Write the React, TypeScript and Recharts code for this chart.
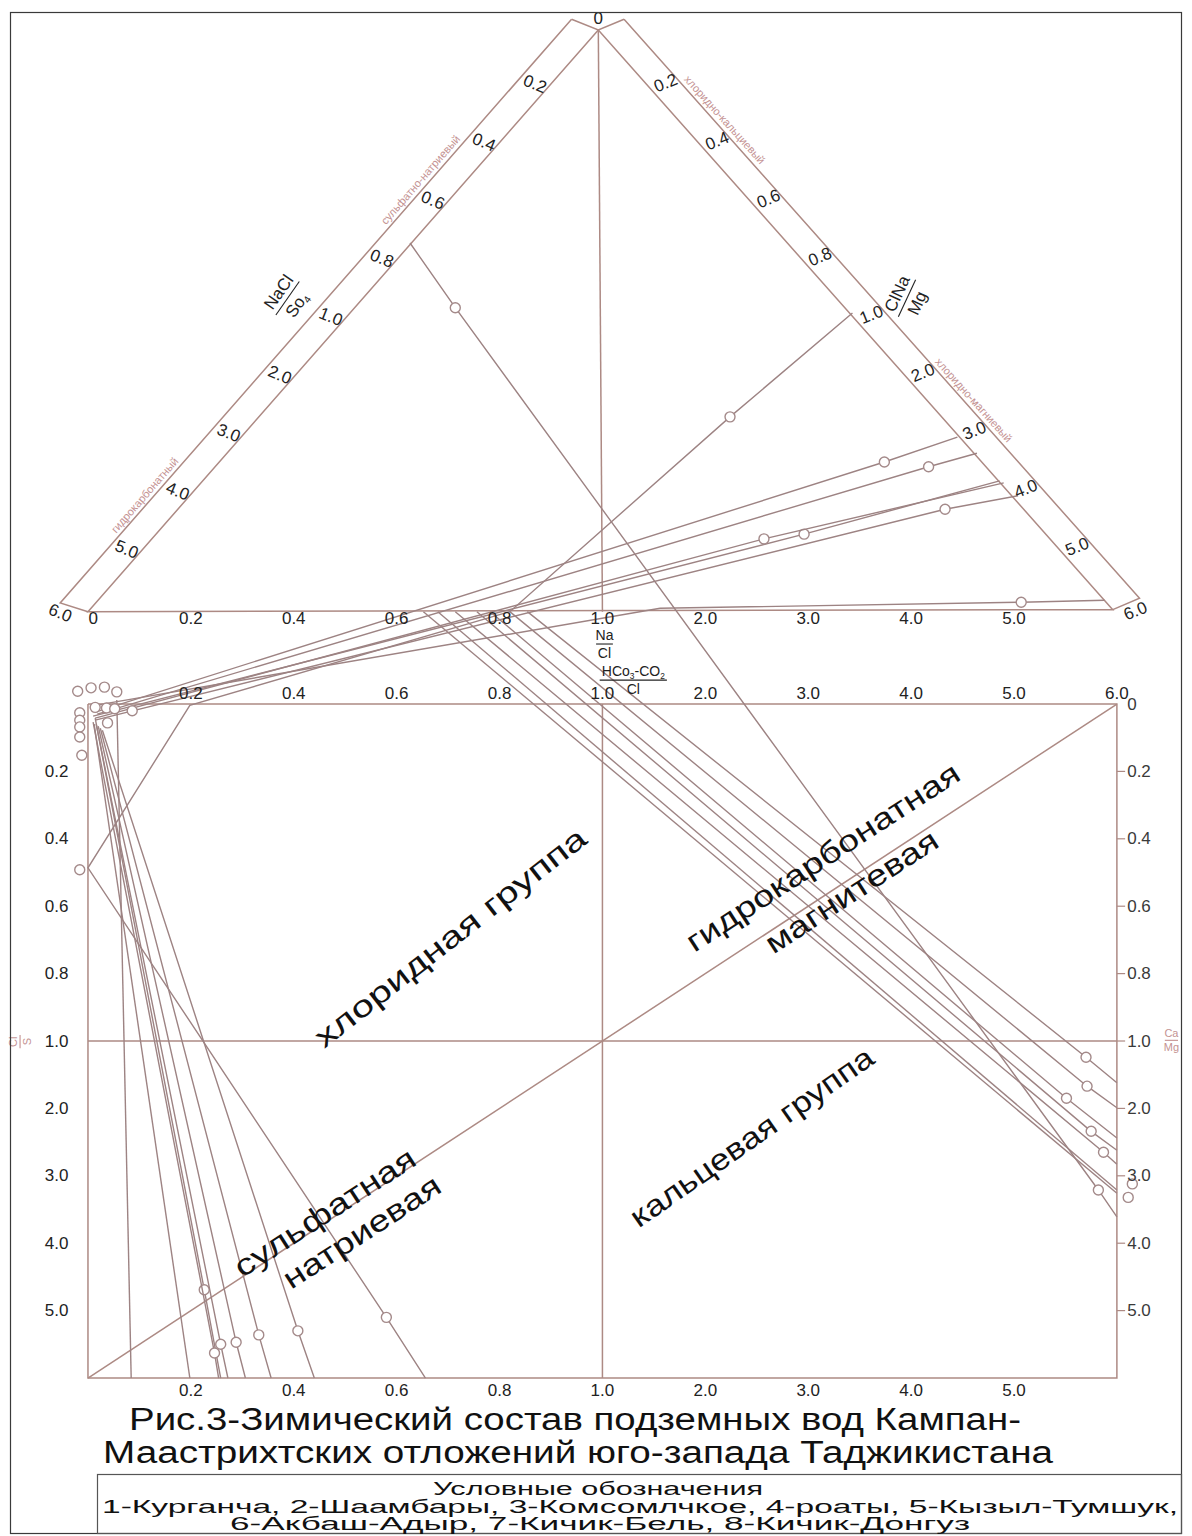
import React from "react";
import { ScatterChart, Scatter, XAxis, YAxis } from "recharts";

type P = [number, number, number?];

// One scale index on both axes: 0…5 covers 0–1.0 in steps of 0.2, 5…10 covers 1.0–6.0.
// y < 0 is the triangle, 0…10 the square (0 at its top edge).
const scaleLabels = ["0", "0.2", "0.4", "0.6", "0.8", "1.0", "2.0", "3.0", "4.0", "5.0", "6.0"];

const triApex: P = [4.96, -10];
const triLeft: P = [0, -1.37];
const triRight: P = [9.96, -1.4];
const triInner: P[] = [triApex, triLeft, triRight, triApex];
const triOuterLeft: P[] = [[4.7, -10.16], [-0.27, -1.5], triLeft];
const triOuterRight: P[] = [[5.21, -10.16], [10.22, -1.57], triRight];
const triNotch: P[] = [[4.7, -10.16], triApex, [5.21, -10.16]];
const triAxis: P[] = [triApex, [5, -1.37]];
const squareBox: P[] = [[0, 0], [10, 0], [10, 10], [0, 10], [0, 0]];
const squareV: P[] = [[5, 0], [5, 10]];
const squareH: P[] = [[0, 5], [10, 5]];
const squareDiag: P[] = [[0, 10], [10, 0]];

// sample traces, third value 1 = plotted point (circle)
const crossLines: P[][] = [
  [[3.13, -6.84], [3.57, -5.88, 1], [9.82, 7.21, 1], [10, 7.61]],
  [[7.43, -5.8], [6.24, -4.26, 1], [4.1, -1.37], [0.99, 0.02], [0, 2.43], [2.9, 9.1, 1], [3.28, 10]],
];

const fanLines: P[][] = [
  [[8.45, -3.96], [7.74, -3.59, 1], [0.07, 0.12]],
  [[8.64, -3.72], [8.17, -3.52, 1], [0.09, 0.15]],
  [[8.86, -3.31], [6.96, -2.52, 1], [0.05, 0.18]],
  [[8.9, -3.28], [6.57, -2.45, 1], [0.07, 0.21]],
  [[9.04, -3.09], [8.33, -2.89, 1], [0.07, 0.24]],
  [[9.88, -1.54], [9.07, -1.51, 1], [5.56, -1.42], [0.07, 0.02]],
];

const calciumLines: P[][] = [
  [[4.27, -1.37], [9.7, 5.24, 1], [10, 5.62]],
  [[4.1, -1.37], [9.71, 5.67, 1], [10, 5.99]],
  [[3.91, -1.37], [9.51, 5.85, 1], [10, 6.44]],
  [[3.78, -1.37], [9.75, 6.34, 1], [10, 6.62]],
  [[3.57, -1.37], [9.87, 6.65, 1], [10, 6.83]],
  [[3.4, -1.37], [10, 7.21]],
  [[3.26, -1.37], [10, 7.26]],
];

const sulfateLines: P[][] = [
  [[0.28, -0.06], [0.42, 10]],
  [[0.06, 0.3], [0.99, 10]],
  [[0.07, 0.21], [1.13, 8.69, 1], [1.29, 10]],
  [[0.05, 0.27], [1.23, 9.63, 1], [1.27, 10]],
  [[0.08, 0.3], [1.29, 9.5, 1], [1.36, 10]],
  [[0.1, 0.33], [1.44, 9.47, 1], [1.53, 10]],
  [[0.12, 0.36], [1.66, 9.36, 1], [1.78, 10]],
  [[0.14, 0.39], [2.04, 9.3, 1], [2.2, 10]],
];

const loosePoints: P[] = [
  [-0.1, -0.19, 1], [0.03, -0.24, 1], [0.16, -0.25, 1], [0.28, -0.18, 1],
  [0.07, 0.05, 1], [0.18, 0.06, 1], [0.26, 0.07, 1], [0.43, 0.1, 1],
  [-0.08, 0.13, 1], [-0.08, 0.24, 1], [-0.08, 0.34, 1], [0.19, 0.28, 1],
  [-0.08, 0.49, 1], [-0.06, 0.76, 1], [-0.08, 2.46, 1],
  [10.15, 7.12, 1], [10.11, 7.32, 1],
];

const regionLabels = [
  { t: "хлоридная группа", x: 3.52, y: 3.46, a: -38, len: 336 },
  { t: "гидрокарбонатная", x: 7.14, y: 2.27, a: -33, len: 320 },
  { t: "магнитевая", x: 7.42, y: 2.78, a: -33, len: 200 },
  { t: "кальцевая группа", x: 6.45, y: 6.42, a: -35, len: 290 },
  { t: "сульфатная", x: 2.3, y: 7.54, a: -33, len: 210 },
  { t: "натриевая", x: 2.66, y: 7.83, a: -33, len: 182 },
];

const bandLabels = [
  { t: "сульфатно-натриевый", x: 3.23, y: -7.78, a: -49 },
  { t: "гидрокарбонатный", x: 0.55, y: -3.1, a: -49 },
  { t: "хлоридно-кальциевый", x: 6.19, y: -8.67, a: 48 },
  { t: "хлоридно-магниевый", x: 8.61, y: -4.51, a: 48 },
];

const fractions = [
  { top: "NaCl", bot: "So_4", x: 1.94, y: -6.02, a: -55, fs: 17 },
  { top: "ClNa", bot: "Mg", x: 7.96, y: -6.02, a: -65, fs: 17 },
  { top: "Na", bot: "Cl", x: 5.02, y: -0.89, a: 0, fs: 14 },
  { top: "HCo_3-CO_2", bot: "Cl", x: 5.3, y: -0.355, a: 0, fs: 14 },
  { top: "Ca", bot: "Mg", x: 10.53, y: 4.99, a: 0, fs: 11, pink: true },
  { top: "Cl", bot: "S", x: -0.66, y: 5.01, a: -90, fs: 11, pink: true },
];

const FONT = "'Liberation Sans', Arial, Helvetica, sans-serif";
const FRAME = "#ad8a84";
const LINE = "#9d8383";
const CIRCLE = "#a48a8a";
const INK = "#222";
const PINK = "#c49292";

const toRow = ([x, y, c]: P) => ({ x, y, c: c === 1 });
const lerp = (a: P, b: P, t: number) => [a[0] + (b[0] - a[0]) * t, a[1] + (b[1] - a[1]) * t];

const leftSideTicks = scaleLabels.slice(1).map((t, i) => {
  const [x, y] = lerp(triApex, triLeft, (i + 1) / 10);
  return i === 9 ? { t, x: x - 0.27, y: y + 0.02, a: 22 } : { t, x: x - 0.12, y: y - 0.06, a: 22 };
});
const rightSideTicks = scaleLabels.slice(1).map((t, i) => {
  const [x, y] = lerp(triApex, triRight, (i + 1) / 10);
  return i === 9 ? { t, x: x + 0.22, y: y + 0.02, a: -22 } : { t, x: x + 0.155, y: y - 0.074, a: -22 };
});
const baseTicks = scaleLabels.slice(0, 10).map((t, i) => ({ t, x: i === 0 ? 0.05 : i, y: -1.27 }));
const topTicks = scaleLabels.slice(1).map((t, i) => ({ t, x: i + 1, y: -0.16 }));
const bottomTicks = scaleLabels.slice(1, 10).map((t, i) => ({ t, x: i + 1, y: 10.19 }));
const leftTicks = scaleLabels.slice(1, 10).map((t, i) => ({ t, x: -0.19, y: i + 1 }));
const rightTicks = scaleLabels.slice(0, 10).map((t, i) => ({ t, x: 10.1, y: i }));
const apexLabel = [{ t: "0", x: 4.96, y: -10.17 }];

const marker = (p: any) =>
  p.payload && p.payload.c ? (
    <circle cx={p.cx} cy={p.cy} r={5} fill="#fff" stroke={CIRCLE} strokeWidth={1.4} />
  ) : (
    <g />
  );

const textShape = (size: number, color: string, anchor: string = "middle") => (p: any) => {
  const { cx, cy, payload } = p;
  return (
    <text
      x={cx}
      y={cy}
      fontSize={size}
      fill={color}
      fontFamily={FONT}
      textAnchor={anchor}
      dominantBaseline="central"
      transform={payload.a ? `rotate(${payload.a} ${cx} ${cy})` : undefined}
      textLength={payload.len}
      lengthAdjust={payload.len ? "spacingAndGlyphs" : undefined}
    >
      {payload.t}
    </text>
  );
};

const withSubs = (s: string, size: number) =>
  s.split(/_(\d)/).map((part, i) =>
    i % 2 ? (
      <tspan key={i} fontSize={size * 0.6} dy={size * 0.2}>
        {part}
      </tspan>
    ) : (
      <tspan key={i} dy={i > 0 ? -size * 0.2 : 0}>
        {part}
      </tspan>
    )
  );

const fractionShape = (p: any) => {
  const { cx, cy, payload: d } = p;
  const fs = d.fs;
  const color = d.pink ? PINK : INK;
  const chars = Math.max(d.top.replace(/_/g, "").length, d.bot.length);
  const w = chars * fs * 0.6;
  return (
    <g transform={`rotate(${d.a} ${cx} ${cy})`} fill={color} fontFamily={FONT} fontSize={fs}>
      <text x={cx} y={cy - fs * 0.3} textAnchor="middle">
        {withSubs(d.top, fs)}
      </text>
      <line x1={cx - w / 2} x2={cx + w / 2} y1={cy} y2={cy} stroke={color} strokeWidth={1.1} />
      <text x={cx} y={cy + fs * 1.0} textAnchor="middle">
        {withSubs(d.bot, fs)}
      </text>
    </g>
  );
};

const path = (key: string, pts: P[], stroke: string, width = 1.4) => (
  <Scatter
    key={key}
    data={pts.map(toRow)}
    line={{ stroke, strokeWidth: width }}
    lineType="joint"
    shape={marker}
    isAnimationActive={false}
  />
);

const labels = (key: string, rows: any[], shape: any) => (
  <Scatter key={key} data={rows} shape={shape} isAnimationActive={false} />
);

export default function App() {
  const frames: [string, P[]][] = [
    ["triInner", triInner],
    ["triOuterLeft", triOuterLeft],
    ["triOuterRight", triOuterRight],
    ["triNotch", triNotch],
    ["triAxis", triAxis],
    ["squareBox", squareBox],
    ["squareV", squareV],
    ["squareH", squareH],
    ["squareDiag", squareDiag],
  ];
  const rightDashes: P[][] = scaleLabels.slice(1, 10).map((_, i) => [[10, i + 1], [10.08, i + 1]]);

  return (
    <div style={{ position: "absolute", left: 0, top: 0, width: 1192, height: 1536, background: "#fff" }}>
      <ScatterChart width={1192} height={1536} margin={{ top: 0, right: 0, bottom: 0, left: 0 }}>
        <XAxis type="number" dataKey="x" domain={[-0.855, 10.73]} allowDataOverflow hide />
        <YAxis type="number" dataKey="y" domain={[-10.445, 12.344]} allowDataOverflow reversed hide />
        {frames.map(([k, pts]) => path(k, pts, FRAME, 1.5))}
        {rightDashes.map((pts, i) => path(`dash${i}`, pts, FRAME, 1.2))}
        {crossLines.map((pts, i) => path(`cross${i}`, pts, LINE))}
        {fanLines.map((pts, i) => path(`fan${i}`, pts, LINE))}
        {calciumLines.map((pts, i) => path(`ca${i}`, pts, LINE))}
        {sulfateLines.map((pts, i) => path(`so${i}`, pts, LINE))}
        <Scatter data={loosePoints.map(toRow)} shape={marker} isAnimationActive={false} />
        {labels("apex", apexLabel, textShape(17, INK))}
        {labels("leftSide", leftSideTicks, textShape(17, INK))}
        {labels("rightSide", rightSideTicks, textShape(17, INK))}
        {labels("base", baseTicks, textShape(17, INK))}
        {labels("top", topTicks, textShape(17, INK))}
        {labels("bottom", bottomTicks, textShape(17, INK))}
        {labels("left", leftTicks, textShape(17, INK, "end"))}
        {labels("right", rightTicks, textShape(17, "#3a3a3a", "start"))}
        {labels("bands", bandLabels, textShape(11, PINK))}
        {labels("fractions", fractions, fractionShape)}
        {labels("regions", regionLabels, textShape(30, "#111"))}
      </ScatterChart>
      <svg
        width={1192}
        height={1536}
        style={{ position: "absolute", left: 0, top: 0, pointerEvents: "none" }}
        fontFamily={FONT}
      >
        <rect x={10.5} y={12.5} width={1171} height={1521} fill="none" stroke="#3a3a3a" strokeWidth={1.2} />
        <text x={575} y={1430} fontSize={31} fill="#111" textAnchor="middle" textLength={892} lengthAdjust="spacingAndGlyphs">
          Рис.3-Зимический состав подземных вод Кампан-
        </text>
        <text x={578} y={1463} fontSize={31} fill="#111" textAnchor="middle" textLength={950} lengthAdjust="spacingAndGlyphs">
          Маастрихтских отложений юго-запада Таджикистана
        </text>
        <rect x={97.5} y={1474.5} width={1084} height={59} fill="none" stroke="#555" strokeWidth={1.2} />
        <text x={598} y={1495} fontSize={18} fill="#111" textAnchor="middle" textLength={330} lengthAdjust="spacingAndGlyphs">
          Условные обозначения
        </text>
        <text x={640} y={1513} fontSize={18} fill="#111" textAnchor="middle" textLength={1076} lengthAdjust="spacingAndGlyphs">
          1-Курганча, 2-Шаамбары, 3-Комсомлчкое, 4-роаты, 5-Кызыл-Тумшук,
        </text>
        <text x={600} y={1530} fontSize={18} fill="#111" textAnchor="middle" textLength={740} lengthAdjust="spacingAndGlyphs">
          6-Акбаш-Адыр, 7-Кичик-Бель, 8-Кичик-Донгуз
        </text>
      </svg>
    </div>
  );
}
